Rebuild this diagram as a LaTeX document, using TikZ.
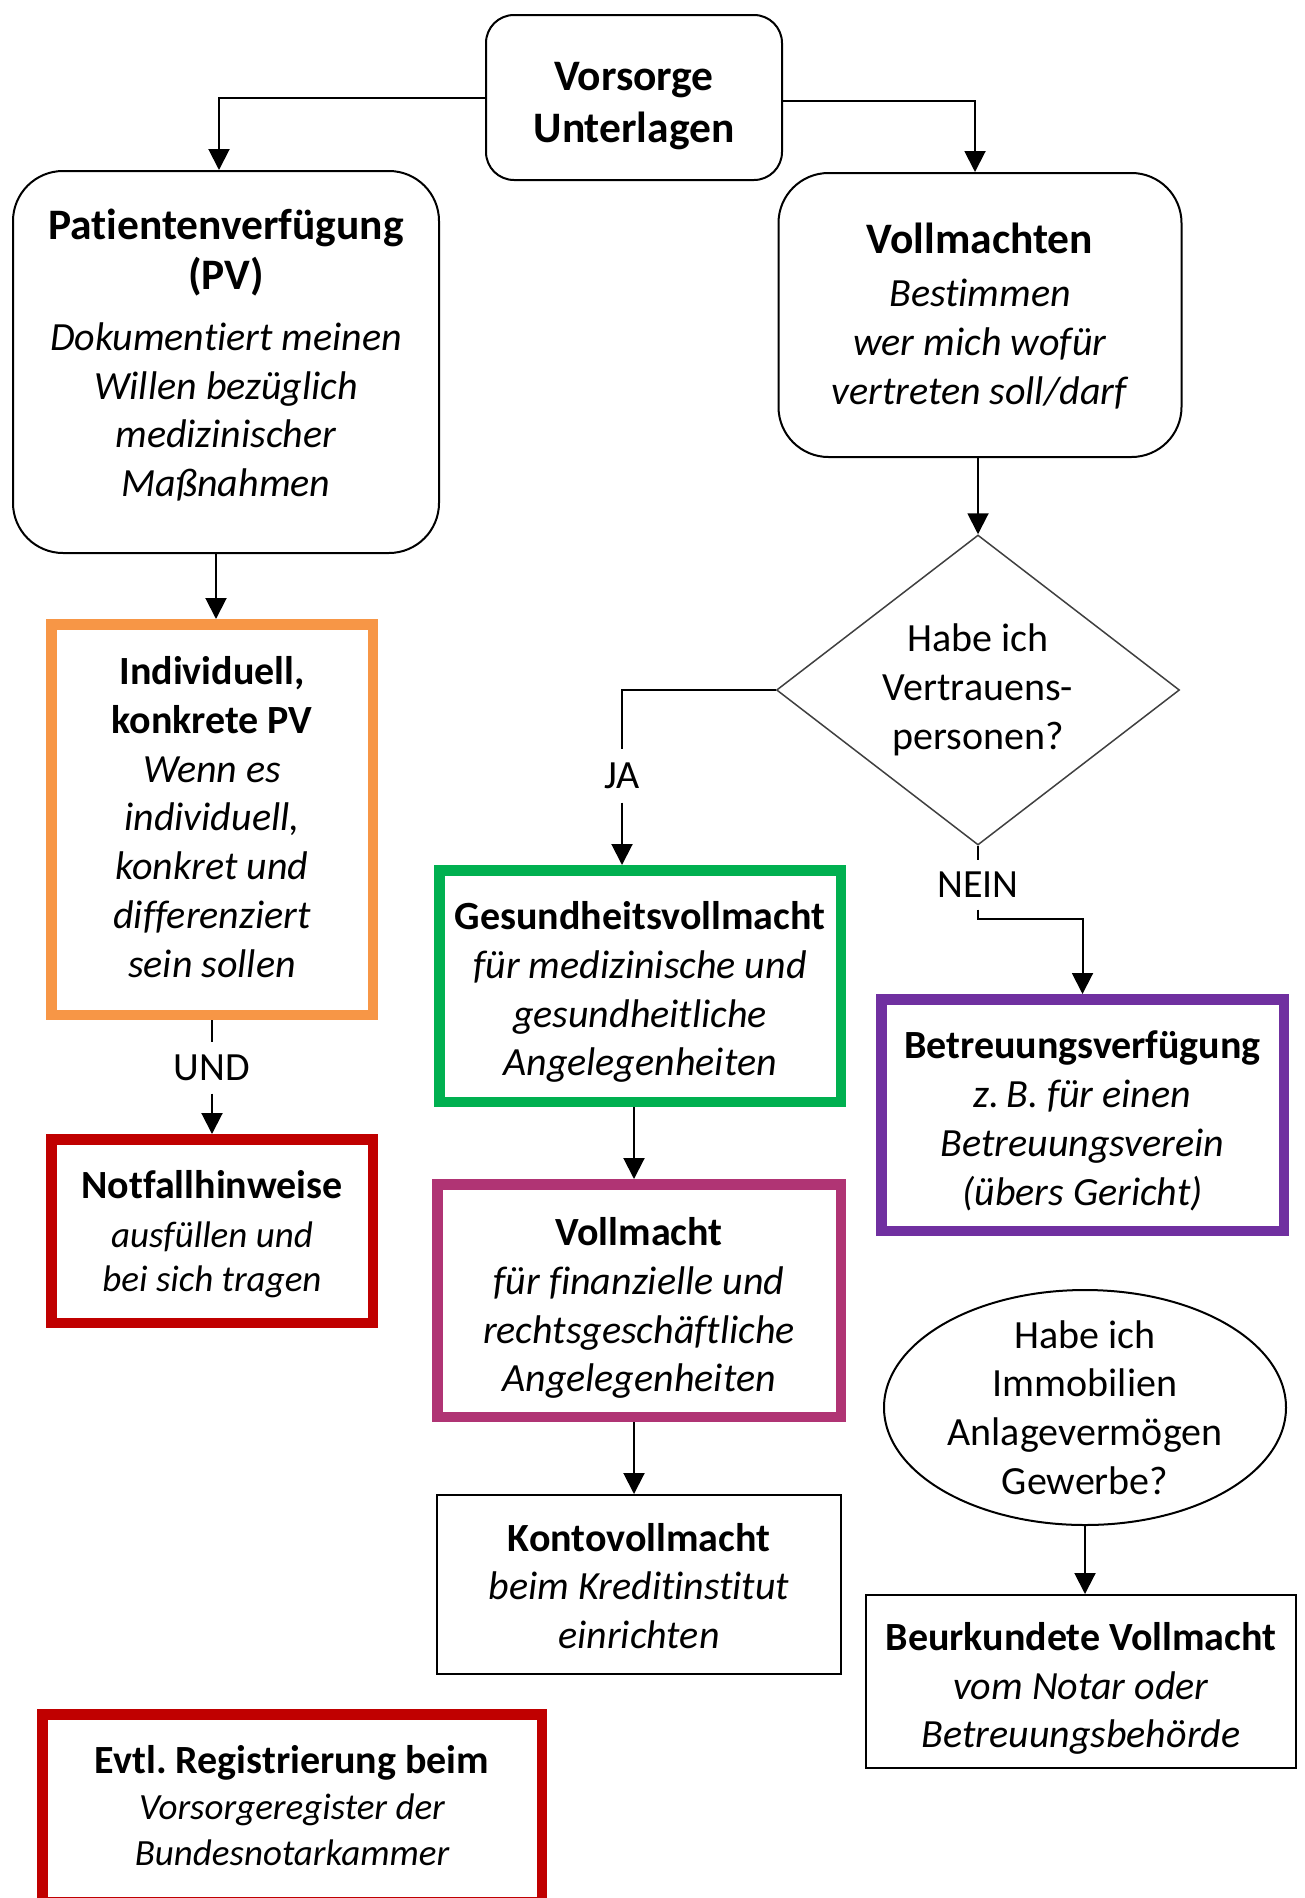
\documentclass[tikz,border=0pt]{standalone}
\usepackage{fontspec}
\setmainfont{Carlito}[Ligatures=NoCommon]
\usetikzlibrary{shapes.geometric,arrows.meta}
\definecolor{corange}{HTML}{F79646}
\definecolor{cgreen}{HTML}{00B050}
\definecolor{cred}{HTML}{C00000}
\definecolor{cpurple}{HTML}{7030A0}
\definecolor{cmagenta}{HTML}{B03474}
\newcommand\bigttl[1]{{\fontsize{43.5}{52}\selectfont\bfseries #1}}
\newcommand\smit[1]{{\fontsize{37}{48.8}\selectfont\itshape #1}}
\frenchspacing
\tikzset{
  base/.style={align=center, font=\fontsize{40}{48.8}\selectfont, inner sep=0pt, text=black},
  rbox/.style={draw, line width=2pt, rounded corners=#1, inner sep=0pt},
  tbox/.style={draw=#1, line width=10.5pt, inner sep=0pt},
  thinbox/.style={draw, line width=2pt, inner sep=0pt},
  arr/.style={line width=2pt, -{Triangle[width=21pt,length=21pt]}},
  conn/.style={line width=2pt},
  lbl/.style={base, minimum height=#1}
}
\begin{document}
\begin{tikzpicture}[x=1pt,y=-1pt]
\useasboundingbox (0,0) rectangle (1304,1898);
\fill[white] (0,0) rectangle (1304,1898);
\clip (0,0) rectangle (1304,1898);

% top
\node[rbox=28pt, minimum width=296pt, minimum height=165pt] (vorsorge) at (634,97.5) {};
\node[base] (vorsorgeT) at ([yshift=-9pt]vorsorge.center)
  {\bigttl{Vorsorge}\\[3.2pt]\bigttl{Unterlagen}};
\node[rbox=50pt, minimum width=426pt, minimum height=382pt] (pv) at (226,362) {};
\node[base] (pvT) at ([yshift=7pt]pv.center)
  {\bigttl{Patientenverfügung}\\[2pt]\bigttl{(PV)}\\[11.7pt]\textit{Dokumentiert meinen}\\\textit{Willen bezüglich}\\\textit{medizinischer}\\\textit{Maßnahmen}};
\node[rbox=50pt, minimum width=403pt, minimum height=284pt] (vm) at (980,315) {};
\node[base] (vmT) at ([yshift=-1pt]vm.center)
  {\bigttl{Vollmachten}\\[4pt]\textit{Bestimmen}\\\textit{wer mich wofür}\\\textit{vertreten soll/darf}};

% decision
\node[base, diamond, draw=black!75, line width=1.5pt, aspect=1.3, minimum width=403pt, minimum height=310pt] (dia) at (978,690)
  {Habe ich\\Vertrauens-\\personen?};

% left column
\node[tbox=corange, minimum width=321.5pt, minimum height=390.5pt] (ind) at (212,819.5) {};
\node[base] (indT) at ([yshift=2.5pt]ind.center)
  {\textbf{Individuell,}\\\textbf{konkrete PV}\\\textit{Wenn es}\\\textit{individuell,}\\\textit{konkret und}\\\textit{differenziert}\\\textit{sein sollen}};
\node[tbox=cred, minimum width=321.5pt, minimum height=183.5pt] (notfall) at (212,1231) {};
\node[base] (notfallT) at ([yshift=-3pt]notfall.center)
  {\textbf{Notfallhinweise}\\[1pt]\smit{ausfüllen und}\\[-5pt]\smit{bei sich tragen}};
\node[tbox=cred, minimum width=499.5pt, minimum height=187.5pt] (evtl) at (292,1808) {};
\node[base] (evtlT) at ([yshift=2.5pt]evtl.center)
  {\textbf{Evtl. Registrierung beim}\\[-2pt]\smit{Vorsorgeregister der}\\[-3pt]\smit{Bundesnotarkammer}};

% middle column
\node[tbox=cgreen, minimum width=401.5pt, minimum height=231.5pt] (gesund) at (640,986) {};
\node[base] (gesundT) at ([yshift=-6pt]gesund.center)
  {\textbf{Gesundheitsvollmacht}\\\textit{für medizinische und}\\\textit{gesundheitliche}\\\textit{Angelegenheiten}};
\node[tbox=cmagenta, minimum width=403.5pt, minimum height=232.5pt] (vollm) at (639,1300.5) {};
\node[base] (vollmT) at ([yshift=-7.5pt]vollm.center)
  {\textbf{Vollmacht}\\\textit{für finanzielle und}\\\textit{rechtsgeschäftliche}\\\textit{Angelegenheiten}};
\node[thinbox, minimum width=404pt, minimum height=179pt] (konto) at (639,1584.5) {};
\node[base] (kontoT) at ([yshift=-1.5pt]konto.center)
  {\textbf{Kontovollmacht}\\\textit{beim Kreditinstitut}\\\textit{einrichten}};

% right column
\node[tbox=cpurple, minimum width=402.5pt, minimum height=231.5pt] (betr) at (1082.5,1115) {};
\node[base] (betrT) at ([yshift=-6pt]betr.center)
  {\textbf{Betreuungsverfügung}\\\textit{z.\,B. für einen}\\\textit{Betreuungsverein}\\\textit{(übers Gericht)}};
\node[base, ellipse, draw, line width=2pt, inner ysep=-30pt, minimum width=402pt, minimum height=235pt] (ell) at (1085,1407.5)
  {Habe ich\\Immobilien\\Anlagevermögen\\Gewerbe?};
\node[thinbox, minimum width=430pt, minimum height=173pt] (beurk) at (1081,1681.5) {};
\node[base] (beurkT) at ([yshift=-7pt]beurk.center)
  {\textbf{Beurkundete Vollmacht}\\\textit{vom Notar oder}\\\textit{Betreuungsbehörde}};

% labels
\node[lbl=53pt] (ja) at (622,776) {JA};
\node[lbl=49pt] (nein) at (978,885) {NEIN};
\node[lbl=51pt] (und) at (212,1068) {UND};
\coordinate (nb) at (978,919);

% connectors
\draw[arr] (vorsorge.west) -| ([xshift=-7pt]pv.north);
\draw[arr] ([yshift=-3.5pt]vorsorge.east) -| ([xshift=-5pt]vm.north);
\draw[arr] (dia.north |- vm.south) -- (dia.north);
\draw[arr] ([xshift=-10pt]pv.south) -- ([xshift=4pt]ind.north);
\draw[conn] (dia.west) -| (ja.north);
\draw[arr] (ja.south) -- (ja.south |- gesund.north);
\draw[conn] (dia.south) -- (nein.north);
\draw[arr] (nein.south) -- (nb) -| (betr.north);
\draw[conn] (ind.south) -- (und.north);
\draw[arr] (und.south) -- (notfall.north);
\draw[arr] ([xshift=-6pt]gesund.south) -- ([xshift=-5pt]vollm.north);
\draw[arr] ([xshift=-5pt]vollm.south) -- ([xshift=-5pt]konto.north);
\draw[arr] (ell.south) -- (ell.south |- beurk.north);
\end{tikzpicture}
\end{document}
